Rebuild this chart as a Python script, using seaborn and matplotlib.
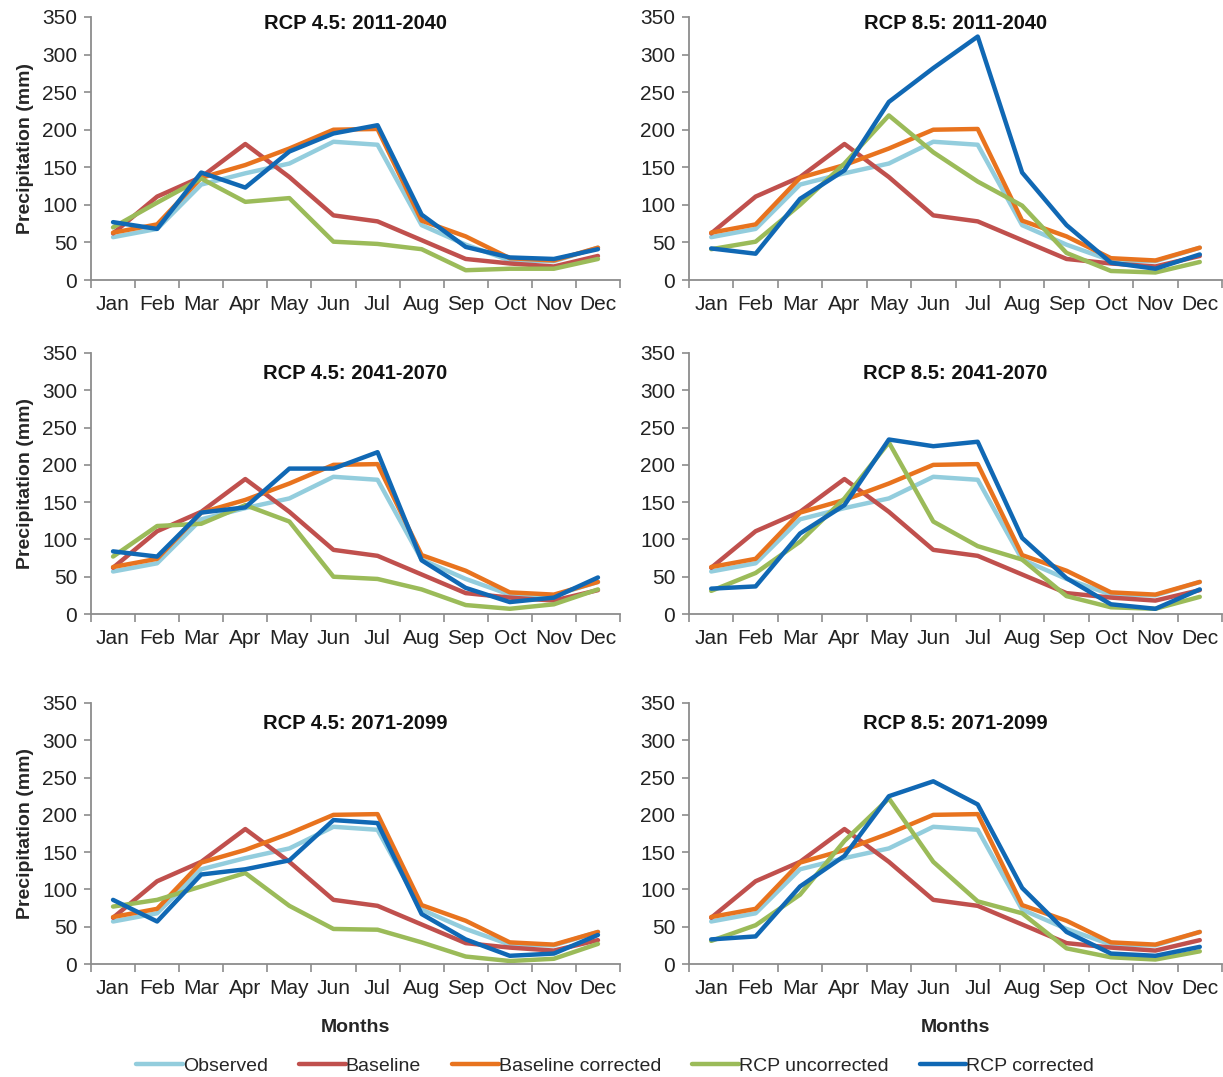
import numpy as np
import pandas as pd
import matplotlib
matplotlib.use("Agg")
import matplotlib.pyplot as plt
import seaborn as sns

months = ["Jan", "Feb", "Mar", "Apr", "May", "Jun", "Jul", "Aug", "Sep", "Oct", "Nov", "Dec"]
series_names = ["Observed", "Baseline", "Baseline corrected", "RCP uncorrected", "RCP corrected"]

observed = [57, 68, 127, 142, 155, 184, 180, 73, 47, 26, 25, 43]
baseline = [62, 111, 137, 181, 137, 86, 78, 53, 28, 22, 18, 32]
baseline_corrected = [63, 74, 136, 153, 175, 200, 201, 79, 58, 29, 26, 43]

titles = ["RCP 4.5: 2011-2040", "RCP 8.5: 2011-2040",
          "RCP 4.5: 2041-2070", "RCP 8.5: 2041-2070",
          "RCP 4.5: 2071-2099", "RCP 8.5: 2071-2099"]

rcp_uncorr_45_2011 = [70, 103, 135, 104, 109, 51, 48, 41, 13, 15, 15, 28]
rcp_corr_45_2011 = [77, 68, 143, 123, 171, 195, 206, 87, 44, 30, 28, 41]
rcp_uncorr_85_2011 = [41, 51, 100, 155, 219, 170, 131, 99, 36, 12, 10, 24]
rcp_corr_85_2011 = [42, 35, 108, 146, 237, 282, 324, 143, 73, 23, 15, 34]
rcp_uncorr_45_2041 = [77, 118, 121, 146, 124, 50, 47, 33, 12, 7, 13, 33]
rcp_corr_45_2041 = [84, 77, 136, 143, 195, 195, 217, 72, 35, 16, 22, 49]
rcp_uncorr_85_2041 = [31, 55, 97, 155, 230, 124, 91, 73, 24, 9, 7, 23]
rcp_corr_85_2041 = [34, 37, 108, 146, 234, 225, 231, 102, 48, 13, 7, 33]
rcp_uncorr_45_2071 = [77, 86, 104, 122, 78, 47, 46, 29, 10, 4, 7, 27]
rcp_corr_45_2071 = [86, 57, 120, 127, 139, 193, 189, 67, 33, 11, 14, 39]
rcp_uncorr_85_2071 = [31, 52, 93, 165, 222, 137, 84, 68, 21, 9, 6, 17]
rcp_corr_85_2071 = [33, 37, 104, 145, 225, 245, 214, 102, 43, 14, 11, 23]

panel_rcp = [
    (rcp_uncorr_45_2011, rcp_corr_45_2011),
    (rcp_uncorr_85_2011, rcp_corr_85_2011),
    (rcp_uncorr_45_2041, rcp_corr_45_2041),
    (rcp_uncorr_85_2041, rcp_corr_85_2041),
    (rcp_uncorr_45_2071, rcp_corr_45_2071),
    (rcp_uncorr_85_2071, rcp_corr_85_2071),
]

colors = ["#93CDDD", "#C0504D", "#E8731E", "#9BBB59", "#1068B4"]
palette = dict(zip(series_names, colors))

sns.set_style("white")
plt.rcParams["font.family"] = ["Liberation Sans", "DejaVu Sans"]

fig = plt.figure(figsize=(12.23, 10.77), dpi=100)
W, H = 1223, 1077
left_x = [91, 689]
ax_w = [529, 533]
rows = [(17, 280), (353, 614), (703, 964)]
title_y = [0.975, 0.92, 0.92]

axes = []
for i in range(6):
    r, c = divmod(i, 2)
    top, bot = rows[r]
    ax = fig.add_axes([left_x[c] / W, 1 - bot / H, ax_w[c] / W, (bot - top) / H])
    unc, cor = panel_rcp[i]
    vals = [observed, baseline, baseline_corrected, unc, cor]
    df = pd.DataFrame({
        "x": np.tile(np.arange(12), 5),
        "value": np.concatenate(vals),
        "series": np.repeat(series_names, 12),
    })
    sns.lineplot(data=df, x="x", y="value", hue="series", hue_order=series_names,
                 palette=palette, linewidth=3.2, ax=ax, legend=(i == 0), sort=False)
    ax.set_xlim(-0.5, 11.5)
    ax.set_ylim(0, 350)
    ax.set_yticks(range(0, 351, 50))
    ax.set_xticks(range(12))
    ax.set_xticklabels(months)
    ax.set_xticks(np.arange(-0.5, 12, 1), minor=True)
    ax.tick_params(axis="x", which="major", bottom=True, length=0, pad=11, labelsize=15,
                   colors="#222222")
    ax.tick_params(axis="x", which="minor", bottom=True, length=6, width=1.2,
                   color="#8c8c8c", direction="out")
    ax.tick_params(axis="y", left=True, length=5, width=1.2, color="#8c8c8c", labelsize=15,
                   pad=5, labelcolor="#222222", direction="out")
    for s in ["top", "right"]:
        ax.spines[s].set_visible(False)
    for s in ["left", "bottom"]:
        ax.spines[s].set_color("#8c8c8c")
        ax.spines[s].set_linewidth(1.3)
    ax.text(0.5, title_y[r], titles[i], transform=ax.transAxes, ha="center", va="center",
            fontsize=14.5, fontweight="bold", color="#111111")
    if c == 0:
        ax.set_ylabel("Precipitation (mm)", fontsize=14, fontweight="bold", labelpad=6)
    else:
        ax.set_ylabel("")
    if r == 2:
        ax.set_xlabel("Months", fontsize=14, fontweight="bold", labelpad=15)
    else:
        ax.set_xlabel("")
    axes.append(ax)

handles, labels = axes[0].get_legend_handles_labels()
axes[0].get_legend().remove()
leg = fig.legend(handles, labels, loc="lower center", bbox_to_anchor=(0.503, -0.014), ncol=5,
                 frameon=False, fontsize=14, handlelength=2.4, handletextpad=0.0,
                 columnspacing=1.6)
for lh in leg.get_lines():
    lh.set_linewidth(3.2)

fig.savefig("out.png", dpi=100, facecolor="white")
